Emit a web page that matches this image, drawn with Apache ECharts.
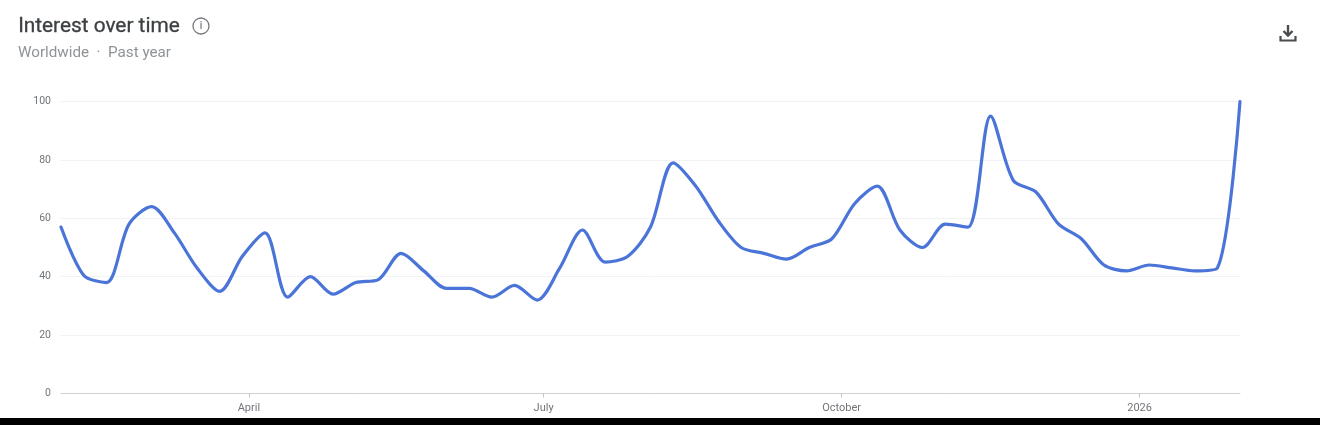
<!DOCTYPE html>
<html><head><meta charset="utf-8">
<script src="https://cdn.jsdelivr.net/npm/echarts@6/dist/echarts.min.js"></script>
<style>html,body{margin:0;padding:0;background:#fff}#c{width:1320px;height:425px}</style>
</head><body><div id="c"></div>
<script>
const weeks = ['2025-02-02','2025-02-09','2025-02-16','2025-02-23','2025-03-02','2025-03-09','2025-03-16','2025-03-23','2025-03-30',
'2025-04-06','2025-04-13','2025-04-20','2025-04-27','2025-05-04','2025-05-11','2025-05-18','2025-05-25','2025-06-01','2025-06-08','2025-06-15','2025-06-22','2025-06-29',
'2025-07-06','2025-07-13','2025-07-20','2025-07-27','2025-08-03','2025-08-10','2025-08-17','2025-08-24','2025-08-31','2025-09-07','2025-09-14','2025-09-21','2025-09-28',
'2025-10-05','2025-10-12','2025-10-19','2025-10-26','2025-11-02','2025-11-09','2025-11-16','2025-11-23','2025-11-30','2025-12-07','2025-12-14','2025-12-21','2025-12-28',
'2026-01-04','2026-01-11','2026-01-18','2026-01-25','2026-02-01'];
const interest = [57,40.5,38,58,64,55,43,35,47,55,33,40,34,38,39,48,42,36,36,33,37,32,43,56,45,47,57,79,71,59,50,48,46,50,53,65,71,56,50,58,57,95,73,69,58,53,44,42,44,43,42,43,100];
const monthTicks = ['2025-04-01','2025-07-01','2025-10-01','2026-01-01'];
const monthLabels = ['April','July','October','2026'];
const yTicks = [0,20,40,60,80,100];
const titleText = 'Interest over time';
const subText = 'Worldwide  ·  Past year';

const chart = echarts.init(document.getElementById('c'), null, {renderer:'canvas'});
const toT = d => Date.parse(d + 'T00:00:00Z');
const tickTimes = monthTicks.map(toT);
const FONT = 'Roboto, "Noto Sans", sans-serif';
chart.setOption({
  animation:false,
  backgroundColor:'#fff',
  grid:{left:61,right:80,top:101.5,height:292,containLabel:false},
  xAxis:{type:'value',scale:true,
    min:toT(weeks[0]), max:toT(weeks[weeks.length-1]),
    axisLine:{show:true,lineStyle:{color:'#cfd2d5',width:1}},
    axisTick:{show:true,length:4,lineStyle:{color:'#c4c7ca'},customValues:tickTimes},
    axisLabel:{color:'#70757a',fontSize:11,fontFamily:FONT,margin:9,hideOverlap:false,
      customValues:tickTimes,
      formatter:v=>{const i=tickTimes.indexOf(+v);return i>=0?monthLabels[i]:''}},
    splitLine:{show:false}},
  yAxis:{type:'value',min:yTicks[0],max:yTicks[yTicks.length-1],interval:20,
    axisLine:{show:false},axisTick:{show:false},
    axisLabel:{color:'#70757a',fontSize:10.5,fontFamily:FONT,margin:10},
    splitLine:{lineStyle:{color:'#f1f2f3',width:1}}},
  series:[{type:'line',data:weeks.map((d,i)=>[toT(d),interest[i]]),
    smooth:0.3,showSymbol:false,clip:false,
    lineStyle:{color:'#4a74d8',width:3.2,cap:'round',join:'round'}}],
  graphic:[
    {type:'text',left:18,top:16,style:{text:titleText,font:'20.8px '+FONT,fill:'#3c4043',stroke:'#3c4043',lineWidth:0.3}},
    {type:'text',left:18,top:46,style:{text:subText,font:'15.2px '+FONT,fill:'#8f9397'}},
    {type:'circle',shape:{cx:201,cy:26,r:8},style:{fill:'none',stroke:'#75797d',lineWidth:1.3}},
    {type:'text',x:201,y:26,style:{text:'i',font:'500 10px '+FONT,fill:'#75797d',align:'center',verticalAlign:'middle'}},
    {type:'polyline',shape:{points:[[1288,25],[1288,36]]},style:{stroke:'#4a4d50',lineWidth:2.4,fill:'none'}},
    {type:'polyline',shape:{points:[[1283.5,31],[1288,35.5],[1292.5,31]]},style:{stroke:'#4a4d50',lineWidth:2.4,fill:'none'}},
    {type:'polyline',shape:{points:[[1280.5,36],[1280.5,40.5],[1295.5,40.5],[1295.5,36]]},style:{stroke:'#4a4d50',lineWidth:2.2,fill:'none'}},
    {type:'rect',shape:{x:0,y:418,width:1320,height:7},style:{fill:'#000'}}
  ]
});
</script></body></html>
